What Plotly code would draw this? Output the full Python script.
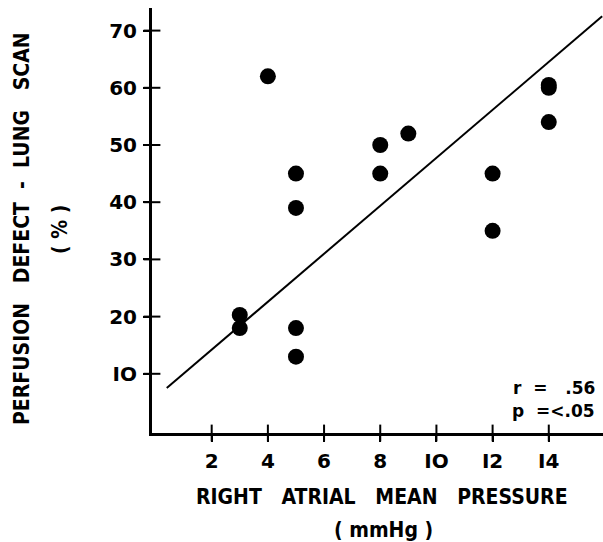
import plotly.graph_objects as go

# Data
pressure = [3, 3, 4, 5, 5, 5, 5, 8, 8, 9, 12, 12, 14, 14, 14]
defect = [20.3, 18, 62, 45, 39, 18, 13, 50, 45, 52, 45, 35, 60.5, 60, 54]

fit_x = [0.4, 15.9]
fit_y = [7.5, 72.5]

x_ticks = [2, 4, 6, 8, 10, 12, 14]
x_tick_labels = ["2", "4", "6", "8", "IO", "I2", "I4"]
y_ticks = [10, 20, 30, 40, 50, 60, 70]
y_tick_labels = ["IO", "20", "30", "40", "50", "60", "70"]

x_range = [-0.125, 15.93]
y_range = [-0.35, 73.95]

W, H = 603, 542
L, R, T, B = 152, 0, 8, 109
PW, PH = W - L - R, H - T - B

tick_font = dict(family="DejaVu Sans", size=20, color="black", weight="bold")
title_font = dict(family="DejaVu Sans Condensed", size=21, color="black", weight="bold")


def px(xp):
    return (xp - L) / PW


def py(yp):
    return (H - B - yp) / PH


fig = go.Figure()

fig.add_trace(go.Scatter(
    x=fit_x, y=fit_y, mode="lines",
    line=dict(color="black", width=2), showlegend=False, hoverinfo="skip"))

fig.add_trace(go.Scatter(
    x=pressure, y=defect, mode="markers",
    marker=dict(color="black", size=16, line=dict(width=0)), showlegend=False))

# tick marks crossing the axes
fig.add_trace(go.Scatter(
    x=x_ticks, y=[y_range[0]] * len(x_ticks), mode="markers", cliponaxis=False,
    marker=dict(symbol="line-ns", size=12, color="black", line=dict(color="black", width=2)),
    showlegend=False, hoverinfo="skip"))
fig.add_trace(go.Scatter(
    x=[x_range[0]] * len(y_ticks), y=y_ticks, mode="markers", cliponaxis=False,
    marker=dict(symbol="line-ew", size=12, color="black", line=dict(color="black", width=2)),
    showlegend=False, hoverinfo="skip"))

fig.update_layout(
    width=W, height=H,
    margin=dict(l=L, r=R, t=T, b=B),
    paper_bgcolor="white", plot_bgcolor="white",
    xaxis=dict(range=x_range, tickvals=x_ticks, ticktext=x_tick_labels,
               showgrid=False, zeroline=False, showline=True, linecolor="black", linewidth=3,
               ticks="outside", ticklen=6, tickwidth=2, tickcolor="black",
               tickfont=tick_font, ticklabelstandoff=2),
    yaxis=dict(range=y_range, tickvals=y_ticks, ticktext=y_tick_labels,
               showgrid=False, zeroline=False, showline=True, linecolor="black", linewidth=3,
               ticks="outside", ticklen=6, tickwidth=2, tickcolor="black",
               tickfont=tick_font, ticklabelstandoff=2),
)

nb = "\u00a0"
annotations = [
    dict(text=f"PERFUSION{nb*3}DEFECT{nb*2}-{nb*2}LUNG{nb*3}SCAN", x=px(22), y=py(229),
         textangle=-90, font=title_font),
    dict(text=f"({nb}%{nb})", x=px(60), y=py(230), textangle=-90, font=title_font),
    dict(text=f"RIGHT{nb*3}ATRIAL{nb*3}MEAN{nb*3}PRESSURE", x=px(382), y=py(497),
         font=title_font),
    dict(text=f"({nb}mmHg{nb})", x=px(383), y=py(530), font=title_font),
    dict(text=f"r{nb*2}={nb*3}.56", x=px(597), y=py(388), xanchor="right",
         font=dict(family="DejaVu Sans", size=17, color="black", weight="bold")),
    dict(text=f"p{nb*2}=<.05", x=px(597), y=py(411), xanchor="right",
         font=dict(family="DejaVu Sans", size=17, color="black", weight="bold")),
]
for a in annotations:
    a.update(xref="paper", yref="paper", showarrow=False)
    a.setdefault("xanchor", "center")
    a.setdefault("yanchor", "middle")
fig.update_layout(annotations=annotations)

fig.write_html("out.html")
